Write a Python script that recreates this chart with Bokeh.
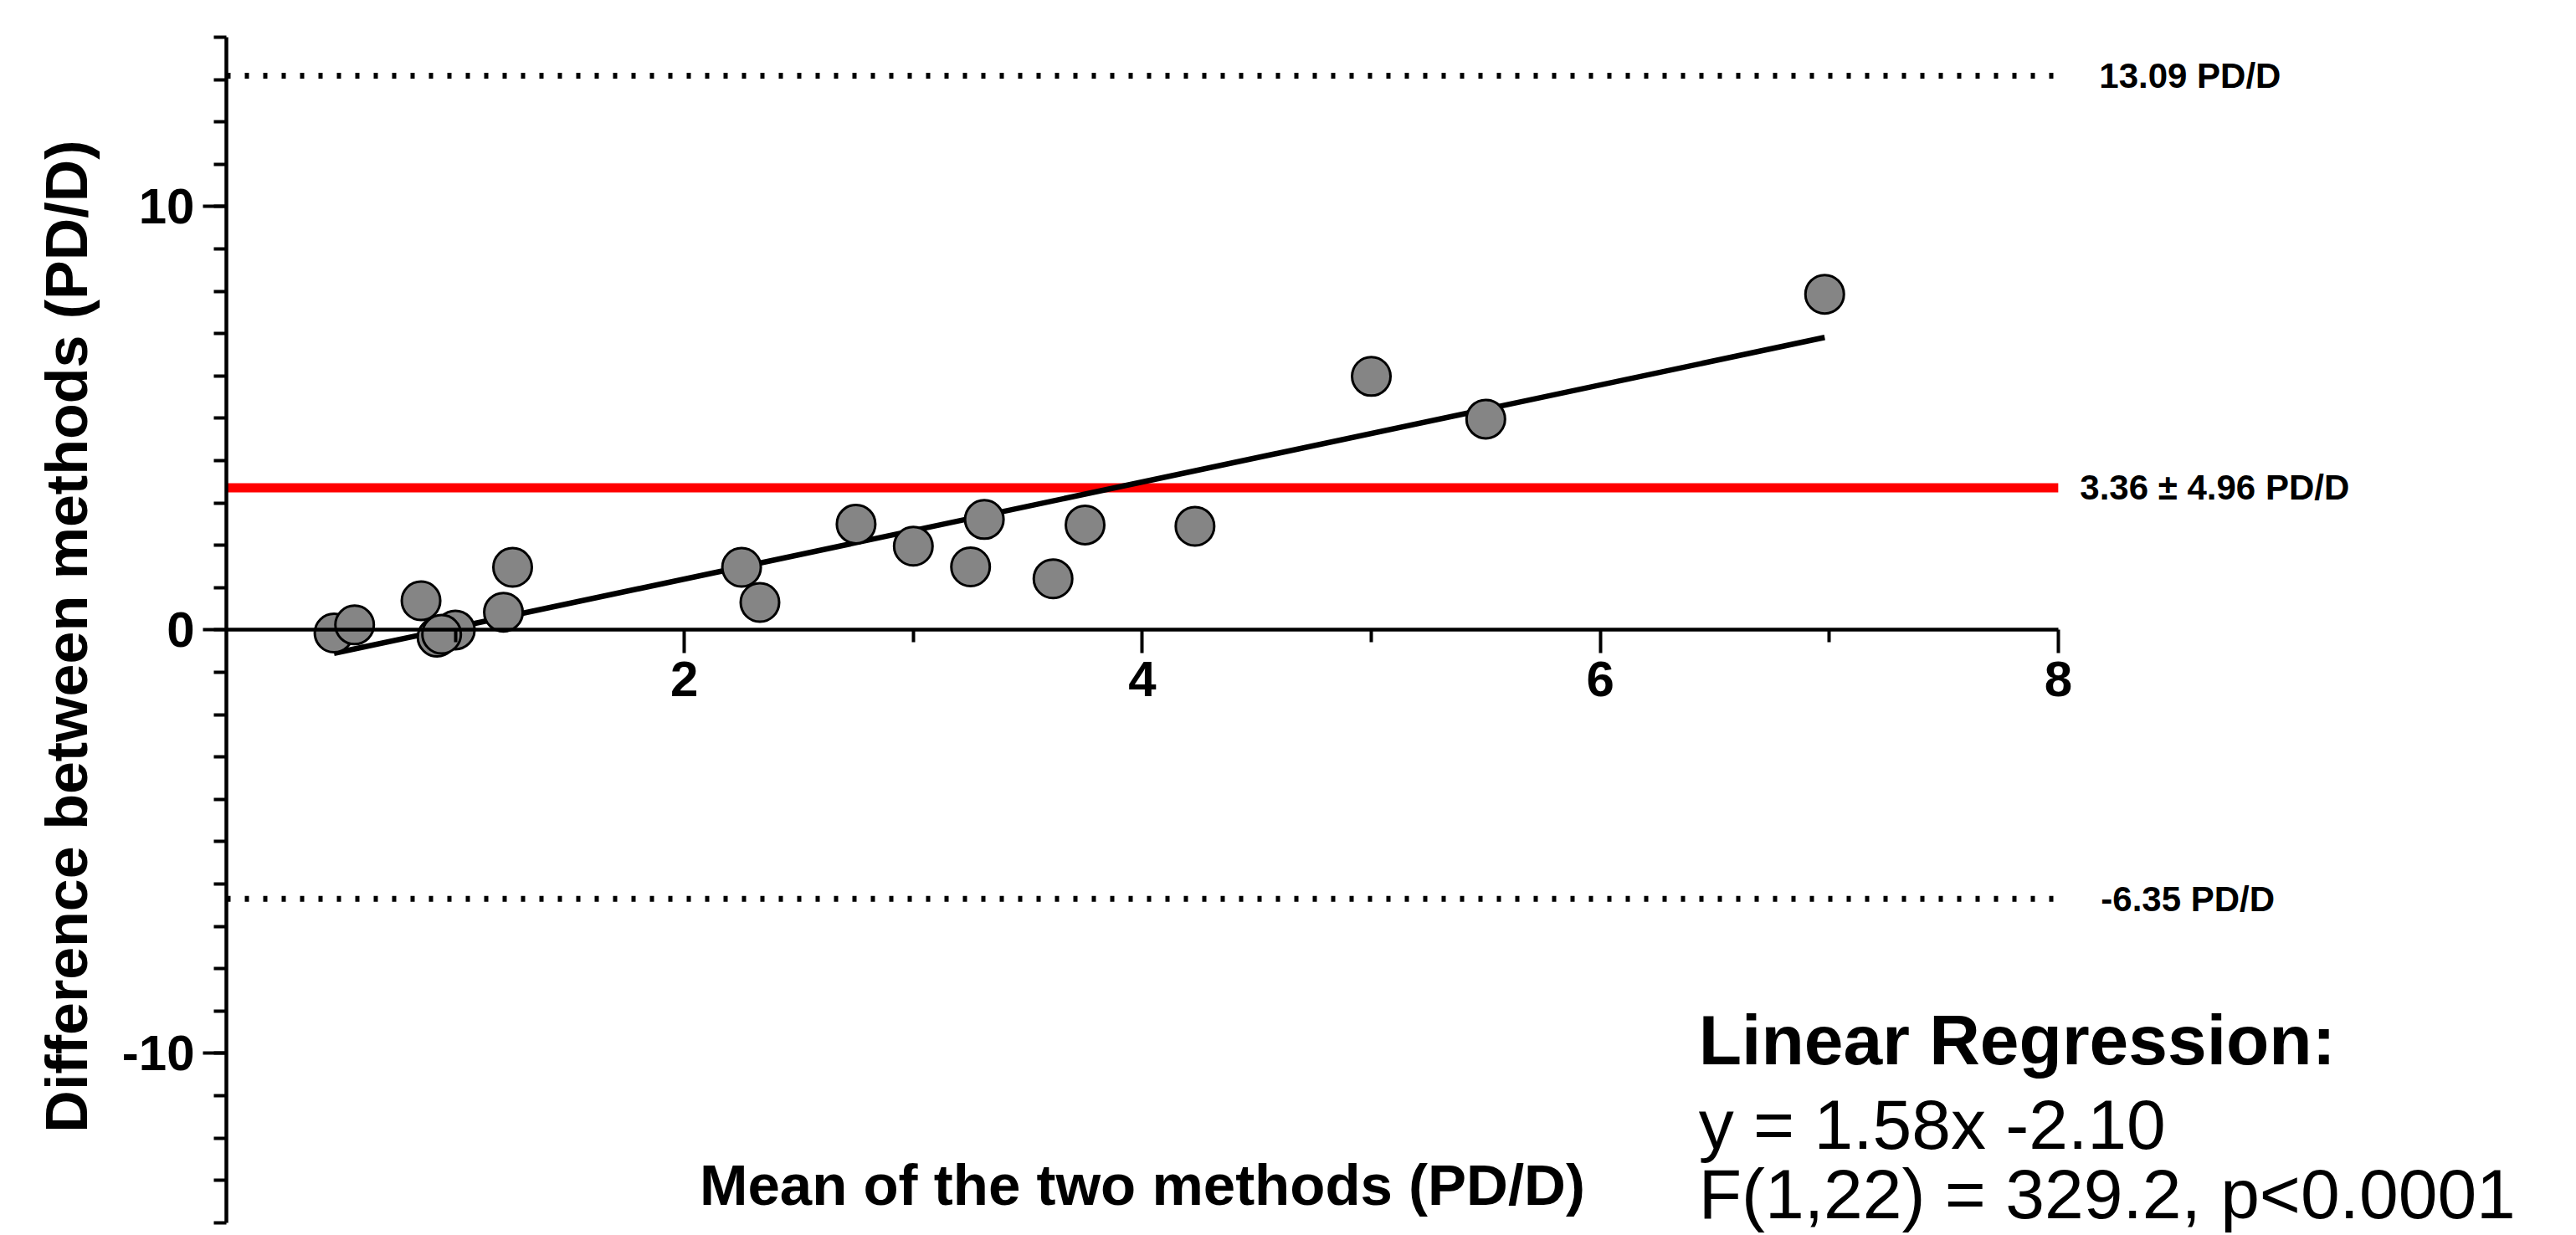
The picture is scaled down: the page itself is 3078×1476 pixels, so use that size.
from bokeh.plotting import figure
from bokeh.models import FixedTicker, Label, ColumnDataSource
from bokeh.embed import file_html
from bokeh.resources import INLINE

# ---- data ----
mean_x = [0.47, 0.56, 0.85, 0.92, 1.00, 0.94, 1.21, 1.25, 2.25, 2.33,
          2.75, 3.00, 3.25, 3.31, 3.61, 3.75, 4.23, 5.00, 5.50, 6.98]
diff_y = [-0.07, 0.12, 0.69, -0.17, 0.00, -0.10, 0.42, 1.48, 1.48, 0.65,
          2.50, 1.98, 1.49, 2.61, 1.21, 2.48, 2.45, 5.99, 4.98, 7.93]

bias = 3.36
bias_sd = 4.96
upper_loa = 13.09
lower_loa = -6.35

fit_slope = 1.146
fit_intercept = -1.089

x_ticks = [2, 4, 6, 8]
x_minor = [1, 3, 5, 7]
y_ticks = [-10, 0, 10]
y_tick_text = {-10: "-10", 0: "0", 10: "10"}
y_minor = list(range(-14, 15))
x_axis_span = (0, 8)
y_axis_span = (-14, 14)
x_view = (0, 10.263)     # frame extends under the side texts
y_view = (-14.3, 14)

upper_text = "13.09 PD/D"
bias_text = "3.36 \u00b1 4.96 PD/D"
lower_text = "-6.35 PD/D"
reg_title = "Linear Regression:"
reg_eq = "y = 1.58x -2.10"
reg_stat = "F(1,22) = 329.2, p<0.0001"
x_title = "Mean of the two methods (PD/D)"
y_title = "Difference between methods (PD/D)"

FONT = "Liberation Sans"

p = figure(width=3078, height=1476, x_range=x_view, y_range=y_view,
           output_backend="svg", toolbar_location=None,
           min_border_left=270, min_border_right=0,
           min_border_top=44, min_border_bottom=0)
p.outline_line_color = None
p.xgrid.visible = False
p.ygrid.visible = False
p.background_fill_color = "white"
p.border_fill_color = "white"

xa = p.xaxis[0]
ya = p.yaxis[0]
xa.fixed_location = 0
xa.bounds = x_axis_span
ya.bounds = y_axis_span
xa.ticker = FixedTicker(ticks=x_ticks, minor_ticks=x_minor)
ya.ticker = FixedTicker(ticks=y_ticks, minor_ticks=y_minor)
ya.major_label_overrides = y_tick_text

for ax in (xa, ya):
    ax.axis_line_width = 4.5
    ax.axis_line_color = "black"
    ax.major_tick_line_width = 4
    ax.minor_tick_line_width = 4
    ax.major_tick_line_color = "black"
    ax.minor_tick_line_color = "black"
    ax.major_tick_out = 28
    ax.major_tick_in = 0
    ax.minor_tick_out = 15
    ax.minor_tick_in = 0
    ax.major_label_text_font = FONT
    ax.major_label_text_font_size = "60px"
    ax.major_label_text_font_style = "bold"
    ax.major_label_text_color = "black"
    ax.major_label_standoff = 10

ya.axis_label = y_title
ya.axis_label_text_font = FONT
ya.axis_label_text_font_size = "70px"
ya.axis_label_text_font_style = "bold"
ya.axis_label_text_color = "black"
ya.axis_label_standoff = 24

# limits of agreement and bias, drawn across the x-axis span
p.line(list(x_axis_span), [upper_loa, upper_loa], line_color="black",
       line_width=7, line_dash="5 17")
p.line(list(x_axis_span), [lower_loa, lower_loa], line_color="black",
       line_width=7, line_dash="5 17")
p.line(list(x_axis_span), [bias, bias], line_color="#ff0000", line_width=11)

# regression line across the data range
fit_x = [min(mean_x), max(mean_x)]
fit_y = [fit_slope * v + fit_intercept for v in fit_x]
p.line(fit_x, fit_y, line_color="black", line_width=6.5)

src = ColumnDataSource(dict(x=mean_x, y=diff_y))
p.scatter("x", "y", source=src, size=46, fill_color="#858585",
          line_color="black", line_width=3)

def lab(x, y, text, size, style="bold", align="left", baseline="alphabetic", xoff=0):
    p.add_layout(Label(x=x, y=y, text=text, x_offset=xoff,
                       text_font=FONT, text_font_size=size,
                       text_font_style=style, text_color="black",
                       text_align=align, text_baseline=baseline))

lab(x_axis_span[1], upper_loa, upper_text, "42px", baseline="middle", xoff=49)
lab(x_axis_span[1], bias, bias_text, "42px", baseline="middle", xoff=26)
lab(x_axis_span[1], lower_loa, lower_text, "42px", baseline="middle", xoff=51)

lab(6.43, -9.68, reg_title, "84px", style="bold")
lab(6.43, -11.69, reg_eq, "84px", style="normal")
lab(6.43, -13.32, reg_stat, "84px", style="normal")

lab(4.0, -13.12, x_title, "69px", style="bold", align="center")

open("out.html", "w").write(file_html(p, INLINE))
